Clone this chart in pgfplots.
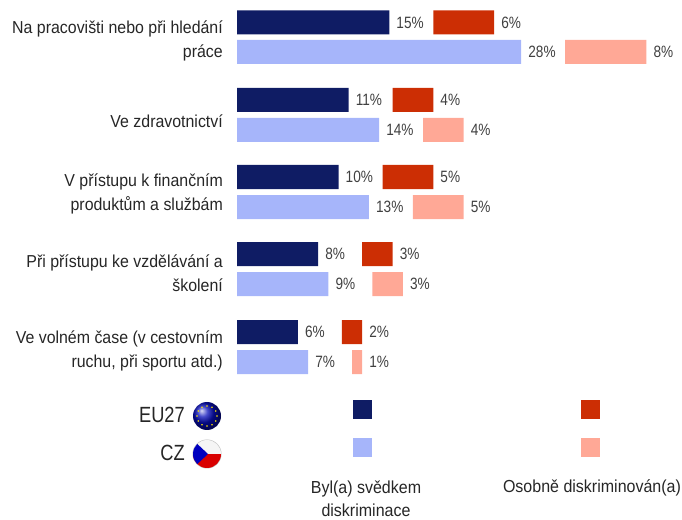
\documentclass[border=0pt]{standalone}
\usepackage{pgfplots}
\usepackage{pgfplotstable}
\usepackage{fontspec}
\pgfplotsset{compat=1.18}
\setmainfont[FakeStretch=0.92]{Liberation Sans}
\newfontfamily\valfont[FakeStretch=0.83]{Liberation Sans}
\definecolor{navy}{HTML}{0F1C64}
\definecolor{lblue}{HTML}{A6B5FA}
\definecolor{dred}{HTML}{CC2E04}
\definecolor{lred}{HTML}{FFA896}
\definecolor{txt}{HTML}{262626}
\definecolor{vtxt}{HTML}{404040}
\pgfplotstableread{
y eu gap red
22.5 15 4.335 6
100 11 4.335 4
177 10 4.335 5
254 8 4.335 3
332 6 4.335 2
}\eutable
\pgfplotstableread{
y cz gap red
52 28 4.335 8
130 14 4.335 4
207 13 4.335 5
284 9 4.335 3
362 7 4.335 1
}\cztable
\pgfplotstableread{
x y
362 409.5
}\legA
\pgfplotstableread{
x y
362 447
}\legB
\pgfplotstableread{
x y
590 409.5
}\legC
\pgfplotstableread{
x y
590 447
}\legD
\pgfplotsset{
  base/.style={at={(0,0)},anchor=south west,width=682pt,height=519pt,scale only axis,hide axis,
    y dir=reverse,ymin=0,ymax=519},
  barax/.style={base,xmin=-23.35,xmax=43.84,xbar stacked,bar width=24pt,clip=false},
  vals/.style={nodes near coords={\pgfmathprintnumber[assume math mode=true]{\pgfplotspointmeta}\%},
    point meta=explicit,
    visualization depends on={\thisrow{#1}\as\val},
    every node near coord/.append style={anchor=west,inner sep=0pt,xshift={5.075pt*\val+7pt},
      text=vtxt,font=\valfont\fontsize{16.4}{18}\selectfont}},
}
\newcommand{\lab}[3]{\node[anchor=east,align=right,inner sep=0pt,text=txt,font=\fontsize{17.3}{24}\selectfont] at (axis cs:#1,#2) {#3};}
\begin{document}
\begin{tikzpicture}
\path[use as bounding box] (0,0) rectangle (682pt,519pt);
\begin{axis}[barax]
\addplot[fill=navy,draw=none,vals=eu] table[x=eu,y=y,meta=eu]{\eutable};
\addplot[fill=none,draw=none] table[x=gap,y=y]{\eutable};
\addplot[fill=dred,draw=none,vals=red] table[x=red,y=y,meta=red]{\eutable};
\end{axis}
\begin{axis}[barax]
\addplot[fill=lblue,draw=none,vals=cz] table[x=cz,y=y,meta=cz]{\cztable};
\addplot[fill=none,draw=none] table[x=gap,y=y]{\cztable};
\addplot[fill=lred,draw=none,vals=red] table[x=red,y=y,meta=red]{\cztable};
\end{axis}
\begin{axis}[base,xmin=0,xmax=682,clip=false]
\addplot[only marks,mark=square*,mark size=9pt,mark options={fill=navy,draw=navy,line width=0pt}] table{\legA};
\addplot[only marks,mark=square*,mark size=9pt,mark options={fill=lblue,draw=lblue,line width=0pt}] table{\legB};
\addplot[only marks,mark=square*,mark size=9pt,mark options={fill=dred,draw=dred,line width=0pt}] table{\legC};
\addplot[only marks,mark=square*,mark size=9pt,mark options={fill=lred,draw=lred,line width=0pt}] table{\legD};
\lab{223}{41}{Na pracovišti nebo při hledání\\práce}
\lab{223}{121}{Ve zdravotnictví}
\lab{223}{194}{V přístupu k finančním\\produktům a službám}
\lab{223}{273}{Při přístupu ke vzdělávání a\\školení}
\lab{223}{351}{Ve volném čase (v cestovním\\ruchu, při sportu atd.)}
\node[anchor=east,inner sep=0pt,text=txt,font=\valfont\fontsize{22}{24}\selectfont] at (axis cs:185,415) {EU27};
\node[anchor=east,inner sep=0pt,text=txt,font=\valfont\fontsize{22}{24}\selectfont] at (axis cs:185,453) {CZ};
\node[align=center,inner sep=0pt,text=txt,font=\fontsize{17.4}{23}\selectfont] at (axis cs:366,499) {Byl(a) svědkem\\diskriminace};
\node[inner sep=0pt,text=txt,font=\fontsize{17.4}{23}\selectfont] at (axis cs:592,488) {Osobně diskriminován(a)};
\end{axis}
% flags
\shade[ball color=blue!55!navy] (207pt,103pt) circle[radius=14pt];
\foreach \a in {0,30,...,330}{
  \fill[yellow!90!orange] (207pt,103pt) ++(\a:10pt) circle[radius=0.9pt];
}
\fill[gray!50] (207pt,65pt) circle[radius=14.5pt];
\begin{scope}
\clip (207pt,65pt) circle[radius=14pt];
\fill[white!92!gray] (192pt,65pt) rectangle (222pt,80pt);
\fill[red!85!black] (192pt,50pt) rectangle (222pt,65pt);
\fill[blue!75!black] (192pt,80pt) -- (208pt,65pt) -- (192pt,50pt) -- cycle;
\end{scope}
\end{tikzpicture}
\end{document}
